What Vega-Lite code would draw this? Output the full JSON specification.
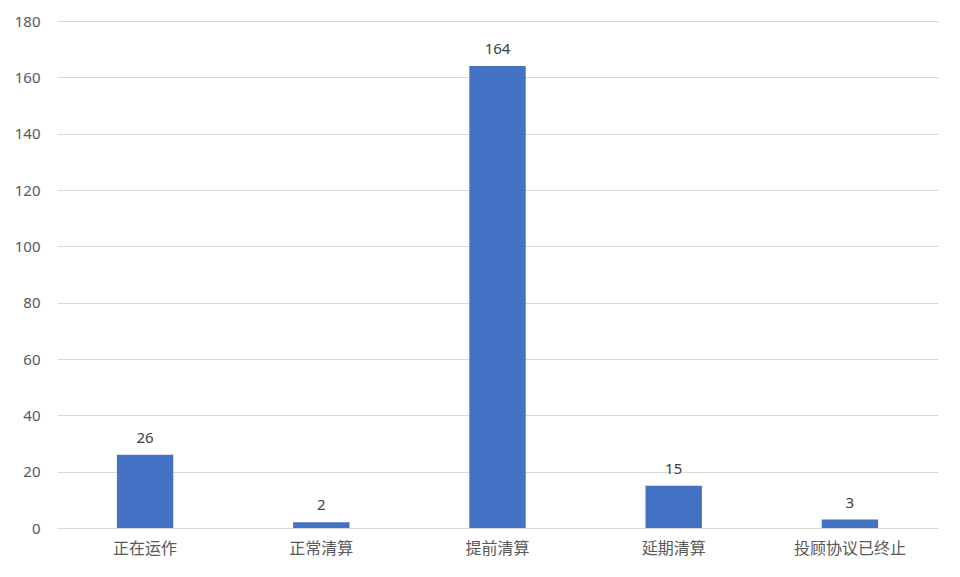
{
  "$schema": "https://vega.github.io/schema/vega-lite/v6.json",
  "width": 881,
  "height": 507,
  "autosize": {"type": "none"},
  "padding": {"left": 57, "top": 21, "right": 22, "bottom": 49},
  "background": "white",
  "data": {
    "values": [
      {"status": "正在运作", "count": 26},
      {"status": "正常清算", "count": 2},
      {"status": "提前清算", "count": 164},
      {"status": "延期清算", "count": 15},
      {"status": "投顾协议已终止", "count": 3}
    ]
  },
  "encoding": {
    "x": {
      "field": "status",
      "type": "nominal",
      "sort": null,
      "scale": {"paddingInner": 0.68, "paddingOuter": 0.34},
      "axis": {
        "title": null,
        "labelAngle": 0,
        "ticks": false,
        "domainColor": "#d9d9d9",
        "labelColor": "#595959",
        "labelFont": "Noto Sans CJK SC",
        "labelFontSize": 16,
        "labelPadding": 12,
        "labelOverlap": false
      }
    },
    "y": {
      "field": "count",
      "type": "quantitative",
      "scale": {"domain": [0, 180]},
      "axis": {
        "title": null,
        "values": [0, 20, 40, 60, 80, 100, 120, 140, 160, 180],
        "domain": false,
        "ticks": false,
        "gridColor": "#d9d9d9",
        "labelColor": "#595959",
        "labelFont": "Noto Sans",
        "labelFontSize": 15,
        "labelPadding": 17,
        "labelOverlap": false,
        "labelFlush": false
      }
    }
  },
  "layer": [
    {"mark": {"type": "bar", "color": "#4472c4"}},
    {
      "mark": {
        "type": "text",
        "baseline": "bottom",
        "dy": -9,
        "color": "#404040",
        "font": "Noto Sans",
        "fontSize": 15
      },
      "encoding": {"text": {"field": "count", "type": "quantitative"}}
    }
  ],
  "config": {"view": {"stroke": null}}
}
